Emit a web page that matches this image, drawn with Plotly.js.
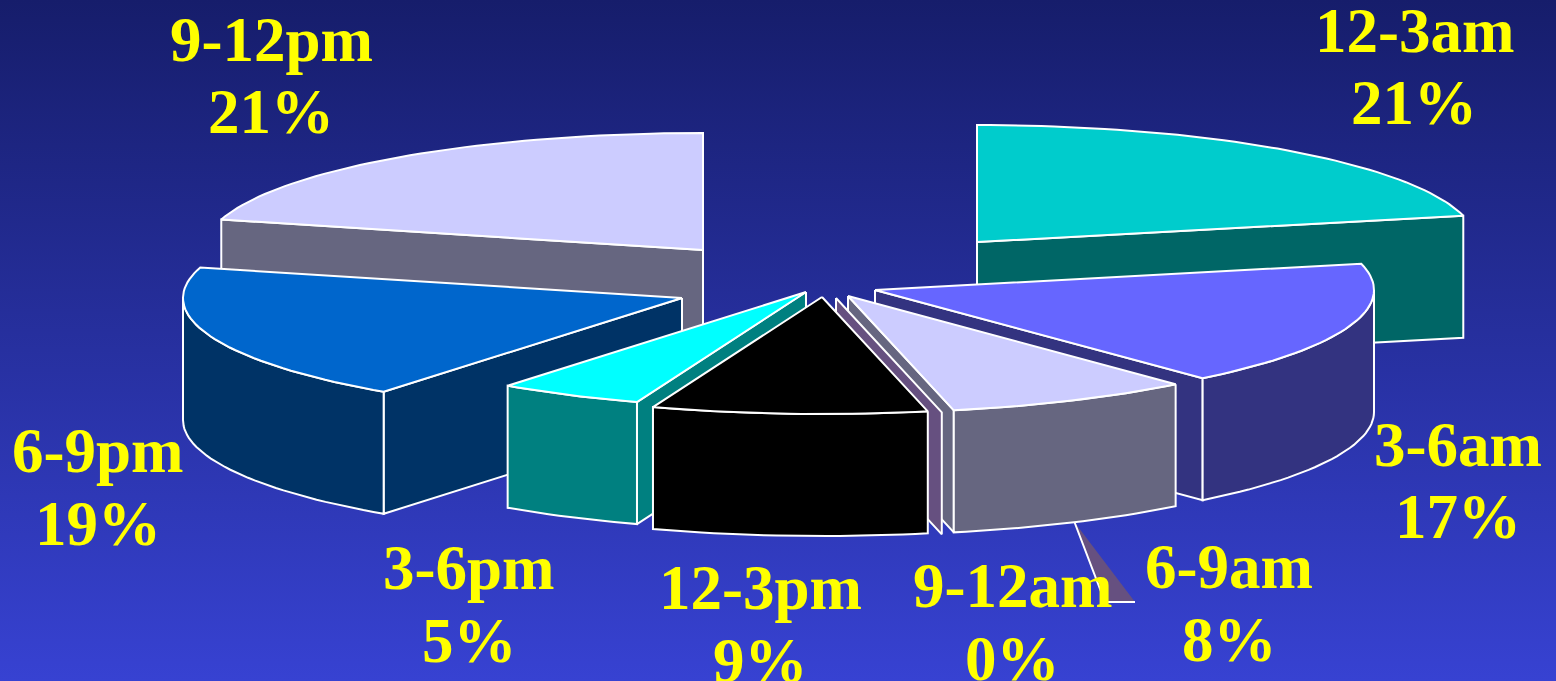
<!DOCTYPE html>
<html>
<head>
<meta charset="utf-8">
<script src="https://cdn.plot.ly/plotly-3.0.1.min.js"></script>
<style>
html,body{margin:0;padding:0;width:1556px;height:681px;overflow:hidden;background:linear-gradient(180deg,#161d6b 0%,#3742d2 100%);}
#chart{width:1556px;height:681px;}
</style>
</head>
<body>
<div id="chart"></div>
<script>
// ---- data ----
const categories = ["12-3am","3-6am","6-9am","9-12am","12-3pm","3-6pm","6-9pm","9-12pm"];
const shares     = [21.4, 17.2, 8.0, 0, 8.9, 4.7, 19.0, 20.8];
const percentLabels = ["21%","17%","8%","0%","9%","5%","19%","21%"];

// ---- style ----
const topColors  = ["#00cccc","#6666ff","#ccccff","#665080","#000000","#00ffff","#0066cc","#ccccff"];
const sideColors = ["#006666","#333380","#666680","#665080","#000000","#008080","#003366","#666680"];
const paintOrder = [0,7,1,6,5,2,3,4];
// explode offsets of each slice (pixels)
const pullX = [137, 35, 8, -4, -18, -34, -158, -137];
const pullY = [-44, 4, 10, 12, 11, 6, 12, -36];
// label anchors (pixels): centre x, name line centre y, percent line centre y
const labelX   = [1414, 1458, 1229, 1012, 760, 469, 98, 271];
const nameY    = [31, 445, 567, 586, 588, 568, 451, 40];
const percentY = [103, 517, 640, 659, 661, 641, 524, 112];

// ---- geometry ----
const W = 1556, H = 681, CX = 840, CY = 286, R = 499;
const TILT = 117/R, DEPTH = 122/R, FONT = 63;
const toX = p => (p-CX)/R, toY = p => -(p-CY)/R;
const rad = d => d*Math.PI/180;

const total = shares.reduce((a,b)=>a+b,0);
let acc = 0;
const slices = shares.map((s,i)=>{
  const a0 = acc/total*360; acc += s; const a1 = acc/total*360;
  return {i, a0, a1, ax: pullX[i]/R, ay: -pullY[i]/R};
});
const rim = (sl,a)=>[sl.ax+Math.sin(rad(a)), sl.ay+TILT*Math.cos(rad(a))];
function arc(sl,a,b){
  const n = Math.max(1,Math.ceil(Math.abs(b-a)/1.5)), out=[];
  for(let k=0;k<=n;k++) out.push(rim(sl,a+(b-a)*k/n));
  return out;
}
function poly(pts,color,name){
  const closed = pts.concat([pts[0]]);
  return {type:"scatter",mode:"lines",name:name,x:closed.map(p=>p[0]),y:closed.map(p=>p[1]),
    fill:"toself",fillcolor:color,line:{color:"#ffffff",width:2,shape:"linear"},hoverinfo:"skip",showlegend:false};
}
function wall(sl,a,color,name){
  const apex=[sl.ax,sl.ay], p=rim(sl,a);
  return poly([apex,p,[p[0],p[1]-DEPTH],[apex[0],apex[1]-DEPTH]],color,name);
}
function edgeVisible(sl,a){
  if(sl.a0===sl.a1) return true;
  const p=rim(sl,a), m=rim(sl,(sl.a0+sl.a1)/2), dx=p[0]-sl.ax;
  if(Math.abs(dx)<1e-6) return false;
  return m[1] > sl.ay+(p[1]-sl.ay)*(m[0]-sl.ax)/dx;
}
const traces=[];

// leader of the empty slice
const lead = slices[2];
const leadStart = rim(lead,153);
const lx0 = leadStart[0], ly0 = leadStart[1]-DEPTH;
const lx1 = toX(1105), ly1 = toY(602), lx2 = toX(1135);

paintOrder.forEach((idx,order)=>{
  const sl=slices[idx], name=categories[idx];
  if(idx===2){
    traces.push({type:"scatter",mode:"lines",x:[lx0,lx1,lx2,lx0],y:[ly0,ly1,ly1,ly0],fill:"toself",
      fillcolor:"#665080",line:{width:0},hoverinfo:"skip",showlegend:false,name:"leader fill"});
    traces.push({type:"scatter",mode:"lines",x:[lx0,lx1,lx2],y:[ly0,ly1,ly1],
      line:{color:"#ffffff",width:2},hoverinfo:"skip",showlegend:false,name:"leader"});
  }
  [sl.a0,sl.a1].forEach((a,k)=>{
    if(sl.a0===sl.a1 && k===1) return;
    if(edgeVisible(sl,a)) traces.push(wall(sl,a,sideColors[idx],name));
  });
  const s=Math.max(sl.a0,90), e=Math.min(sl.a1,270);
  if(e>s){
    const up=arc(sl,s,e), down=up.map(p=>[p[0],p[1]-DEPTH]).reverse();
    traces.push(poly(up.concat(down),sideColors[idx],name));
  }
  if(sl.a1>sl.a0){
    traces.push(poly([[sl.ax,sl.ay]].concat(arc(sl,sl.a0,sl.a1)),topColors[idx],name));
  }
});

const labelFont={family:'"Liberation Serif",serif',size:FONT,color:"#ffff00"};
const annotations=[];
categories.forEach((c,i)=>{
  annotations.push({x:toX(labelX[i]),y:toY(nameY[i]),xref:"x",yref:"y",text:"<b>"+c+"</b>",showarrow:false,font:labelFont,xanchor:"center",yanchor:"middle"});
  annotations.push({x:toX(labelX[i]),y:toY(percentY[i]),xref:"x",yref:"y",text:"<b>"+percentLabels[i]+"</b>",showarrow:false,font:labelFont,xanchor:"center",yanchor:"middle"});
});

const hidden={visible:false,fixedrange:true};
Plotly.newPlot("chart",traces,{
  width:W,height:H,margin:{l:0,r:0,t:0,b:0,pad:0},
  paper_bgcolor:"rgba(0,0,0,0)",plot_bgcolor:"rgba(0,0,0,0)",showlegend:false,
  xaxis:Object.assign({range:[toX(0),toX(W)]},hidden),
  yaxis:Object.assign({range:[toY(H),toY(0)]},hidden),
  annotations:annotations
},{displayModeBar:false,staticPlot:true});
</script>
</body>
</html>
